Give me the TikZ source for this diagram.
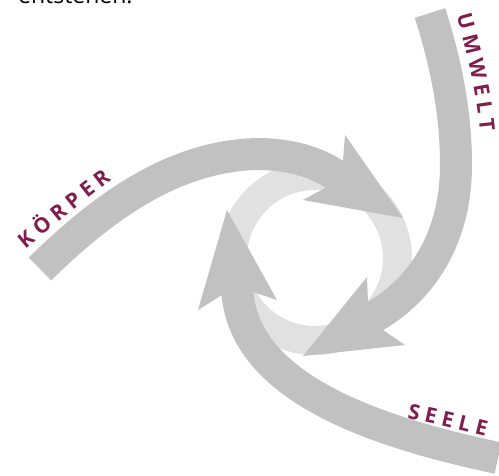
\documentclass[tikz,border=0pt]{standalone}
\usepackage{fontspec}
\setsansfont{Open Sans}
\usetikzlibrary{decorations.text}
\definecolor{bandc}{HTML}{C1C1C1}
\definecolor{ringc}{HTML}{E1E1E1}
\definecolor{labc}{HTML}{7F1D4C}
\newcommand{\labfont}{\sffamily\bfseries\fontsize{21}{21}\selectfont}
\tikzset{
  band/.style={draw=bandc, line width=32pt, line cap=butt},
  headc/.style={fill=bandc},
  curvelab/.style={decorate, decoration={text along path, text align=center, text color=labc, text={#1}}},
}
\begin{document}
\begin{tikzpicture}[x=1pt, y=-1pt]
\path[use as bounding box] (0,0) rectangle (499,475);
\clip (0,0) rectangle (499,475);
% top text (cut off)
\node[anchor=base west, inner sep=0pt, font=\sffamily\fontsize{23}{23}\selectfont] (toptext) at (18,3.5) {entstehen.};
% ring
\fill[ringc, even odd rule] (315,258) circle[radius=97pt] (315,258) circle[radius=68pt];
% KOERPER arrow
\coordinate (k0) at (40,269);
\coordinate (k1) at (257,154);
\coordinate (k2) at (334,174);
\draw[band] (k0) .. controls (105,205) and (175,156) .. (k1) .. controls (290,154) and (315,162) .. (k2) -- ++(4.2,2.7);
\fill[headc] (345,135) -- (403,218) -- (303,200) -- (325,188) -- (343,160) -- cycle;
% UMWELT arrow
\coordinate (u0) at (430,13);
\coordinate (u1) at (456,165);
\coordinate (u2) at (375.5,316);
\draw[band] (u0) .. controls (445,60) and (456,110) .. (u1) .. controls (456,240) and (420,290) .. (u2) -- ++(-3.5,2);
\fill[headc] (367,277) -- (303,356) -- (405,345) -- (383,330) -- (368,302) -- cycle;
% SEELE arrow
\coordinate (s0) at (498,458);
\coordinate (s1) at (237.5,293.5);
\draw[band] (s0) .. controls (380,433) and (246,390) .. (s1) -- ++(-0.4,-4);
\fill[headc] (198,310) -- (227,210) -- (277,300) -- (253,292) -- (222,295) -- cycle;
% labels along curves
\coordinate (kl0) at (8,264);
\coordinate (kl1) at (130,166);
\path[curvelab={|\labfont|K Ö R P E R}] (kl0) .. controls (45,232) and (90,196) .. (kl1);
\coordinate (ul0) at (453,3);
\coordinate (ul1) at (481,145);
\path[curvelab={|\labfont|U M W E L T}] (ul0) .. controls (465,45) and (478,95) .. (ul1);
\coordinate (sl0) at (380,414);
\coordinate (sl1) at (512,443);
\path[curvelab={|\labfont|S E E L E}] (sl0) .. controls (420,419) and (470,433) .. (sl1);
\end{tikzpicture}
\end{document}
